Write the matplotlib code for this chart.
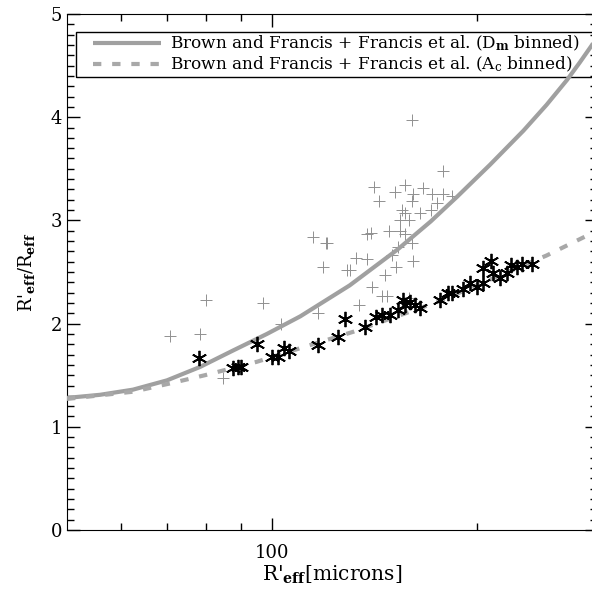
import matplotlib
matplotlib.use('Agg')
import matplotlib.pyplot as plt
from matplotlib.patches import Rectangle
from matplotlib.ticker import FixedLocator, MultipleLocator, NullFormatter

# binned curves (R'eff in microns, ratio)
dm_x = [50, 55.9, 62.5, 70.1, 78.4, 87.7, 98.3, 110, 130, 153, 171, 187, 209, 234, 253, 271, 283, 295, 300]
dm_y = [1.28, 1.31, 1.36, 1.45, 1.58, 1.74, 1.90, 2.07, 2.37, 2.72, 2.99, 3.23, 3.54, 3.87, 4.12, 4.36, 4.53, 4.70, 4.78]

ac_x = [50, 62.5, 70.8, 79.7, 95, 111, 131.5, 175, 253, 300]
ac_y = [1.27, 1.34, 1.42, 1.50, 1.63, 1.77, 1.92, 2.21, 2.66, 2.90]

# individual points (crosses)
cross_x = [70.8, 80, 78.4, 97, 84.7, 103, 117, 119, 120.5, 129, 160.5, 178, 141, 143.6, 151.6,
           157, 161, 160.5, 166.7, 172, 178, 184, 174.5, 171, 157, 154, 159, 148.5, 154, 157,
           138, 115, 120, 153, 161, 152, 133, 138, 130, 146.5, 147.5, 139.5, 165, 155, 140,
           145, 159, 160.5, 134, 150]
cross_y = [1.88, 2.23, 1.90, 2.20, 1.47, 2.00, 2.10, 2.55, 2.78, 2.52, 3.97, 3.48, 3.32, 3.19, 3.28,
           3.34, 3.26, 3.19, 3.31, 3.26, 3.26, 3.24, 3.17, 3.10, 3.07, 3.00, 3.00, 2.90, 2.90, 2.87,
           2.87, 2.84, 2.78, 2.74, 2.61, 2.55, 2.64, 2.63, 2.52, 2.47, 2.27, 2.88, 3.07, 3.10, 2.35,
           2.27, 2.25, 2.78, 2.18, 2.66]

# individual points (asterisks)
star_x = [78, 87.5, 89, 90, 95, 100, 102, 104, 106, 117, 125, 128, 137, 142, 145, 149, 153, 155.7,
          157, 159.5, 162, 165, 176.5, 181, 184, 191, 195, 200, 204, 204, 210, 211, 216, 221, 224,
          229, 233, 241]
star_y = [1.67, 1.57, 1.58, 1.58, 1.80, 1.68, 1.68, 1.76, 1.73, 1.79, 1.87, 2.04, 1.97, 2.06, 2.08,
          2.08, 2.13, 2.23, 2.18, 2.21, 2.18, 2.15, 2.23, 2.30, 2.30, 2.34, 2.39, 2.35, 2.39, 2.54,
          2.61, 2.49, 2.44, 2.49, 2.57, 2.55, 2.58, 2.58]

plt.rcParams['font.family'] = 'DejaVu Serif'
plt.rcParams['mathtext.fontset'] = 'dejavuserif'

fig = plt.figure(figsize=(5.92, 5.92), dpi=100)
ax = fig.add_axes([67 / 592, 62 / 592, 530 / 592, 516 / 592])

ax.plot(dm_x, dm_y, color='#a0a0a0', lw=3.0, solid_capstyle='butt', zorder=3,
        label=r"Brown and Francis + Francis et al. (D$_{\mathbf{m}}$ binned)")
ax.plot(ac_x, ac_y, color='#a8a8a8', lw=3.0, linestyle=(0, (2, 2.6)), zorder=3,
        label=r"Brown and Francis + Francis et al. (A$_{\mathrm{c}}$ binned)")
ax.plot(cross_x, cross_y, linestyle='none', marker='+', ms=8, mew=0.7, color='#909090', zorder=2)
ax.plot(star_x, star_y, linestyle='none', marker=(6, 2, 0), ms=11, mew=1.3, color='black', zorder=4)

ax.set_xscale('log')
ax.set_xlim(50, 300)
ax.set_ylim(0, 5)

ax.xaxis.set_major_locator(FixedLocator([100]))
ax.xaxis.set_minor_locator(FixedLocator([60, 70, 80, 90, 200, 300]))
ax.xaxis.set_minor_formatter(NullFormatter())
ax.set_xticklabels(['100'])
ax.yaxis.set_major_locator(MultipleLocator(1))
ax.yaxis.set_minor_locator(MultipleLocator(0.1))

ax.tick_params(which='both', direction='in', top=True, right=True, width=1, labelsize=13)
ax.tick_params(which='major', length=9)
ax.tick_params(which='minor', length=5)
ax.tick_params(axis='x', pad=10)

ax.set_xlabel(r"R$'_{\mathbf{eff}}$[microns]", fontsize=14.5, labelpad=1)
ax.set_ylabel(r"R$'_{\mathbf{eff}}$/R$_{\mathbf{eff}}$", fontsize=13, labelpad=10)

# legend box drawn by hand so the sample lines sit inside with a margin
ax.add_patch(Rectangle((9 / 530, (530 - 77) / 516), 1.1, 45 / 516, transform=ax.transAxes,
                       fill=False, edgecolor='black', lw=1, clip_on=False, zorder=1))
leg = ax.legend(loc='upper left', bbox_to_anchor=(26 / 530, (530 - 34) / 516), fontsize=12.2,
                frameon=False, borderaxespad=0, borderpad=0,
                handlelength=4.0, handletextpad=0.55, labelspacing=0.1)
leg.set_zorder(1)

fig.savefig('out.png', dpi=100)
